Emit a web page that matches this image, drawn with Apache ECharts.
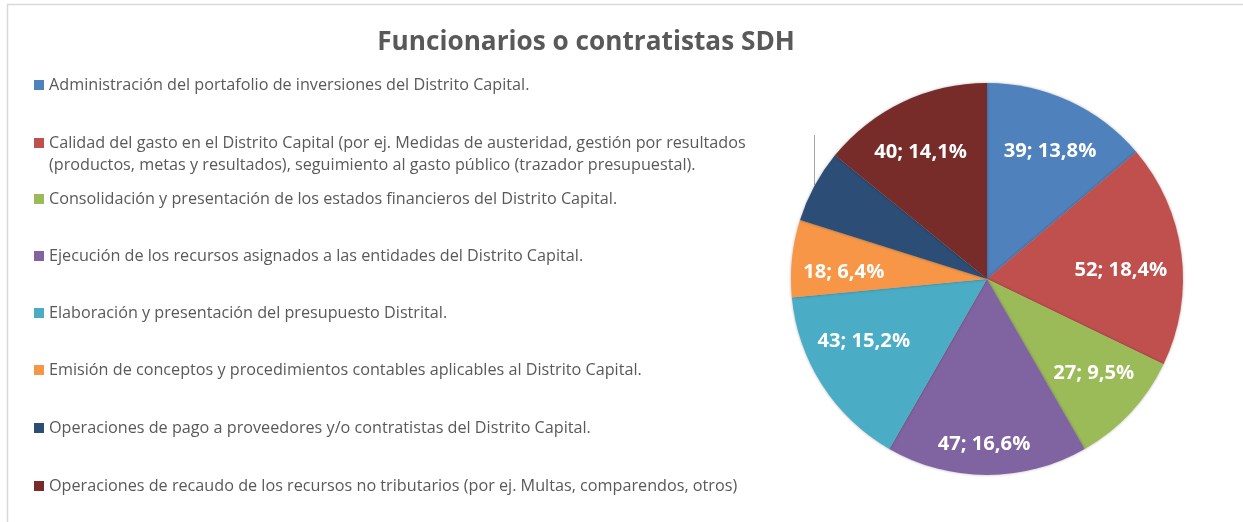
<!DOCTYPE html>
<html>
<head>
<meta charset="utf-8">
<script src="https://cdn.jsdelivr.net/npm/echarts@6/dist/echarts.min.js"></script>
<style>
    html, body { margin: 0; padding: 0; background: #fff; }
    #chart { width: 1243px; height: 522px; }
</style>
</head>
<body>
<div id="chart"></div>
<script>
// datos
var categories = [
    'Administración del portafolio de inversiones del Distrito Capital.',
    'Calidad del gasto en el Distrito Capital (por ej. Medidas de austeridad, gestión por resultados (productos, metas y resultados), seguimiento al gasto público (trazador presupuestal).',
    'Consolidación y presentación de los estados financieros del Distrito Capital.',
    'Ejecución de los recursos asignados a las entidades del Distrito Capital.',
    'Elaboración y presentación del presupuesto Distrital.',
    'Emisión de conceptos y procedimientos contables aplicables al Distrito Capital.',
    'Operaciones de pago a proveedores y/o contratistas del Distrito Capital.',
    'Operaciones de recaudo de los recursos no tributarios (por ej. Multas, comparendos, otros)'
];
var values = [39, 52, 27, 47, 43, 18, 17, 40];
var colors = ['#4F81BD', '#C0504D', '#9BBB59', '#8064A2', '#4BACC6', '#F79646', '#2C4D75', '#772C2A'];
// texto de leyenda con salto de línea (solo el segundo)
var legendText = {};
legendText[categories[1]] = 'Calidad del gasto en el Distrito Capital (por ej. Medidas de austeridad, gestión por resultados\n(productos, metas y resultados), seguimiento al gasto público (trazador presupuestal).';
var noLabel = [categories[6]];

// layout
var legendY = [85, 143, 199, 256, 313, 370, 428, 486];
var labelShift = [[3, 2], [-8, 9], [2, -3], [-3, 22], [-3, -15], [-1, 8], [0, 0], [-5, 2]];
var txtColor = '#595959';
var font = 'Open Sans';

var chart = echarts.init(document.getElementById('chart'));

var legends = categories.map(function (name, i) {
    var multi = !!legendText[name];
    return {
        data: [name],
        left: 34,
        top: multi ? legendY[i] - 33 : legendY[i] - 11,
        padding: 0,
        icon: 'rect',
        itemWidth: 10,
        itemHeight: 10,
        itemGap: 0,
        selectedMode: false,
        formatter: function (n) {
            return legendText[n] ? '\n' + legendText[n] : n;
        },
        textStyle: {
            color: txtColor,
            fontFamily: font,
            fontSize: 16.2,
            lineHeight: 22,
            padding: [0, 0, 0, 0]
        }
    };
});

var pieData = categories.map(function (name, i) {
    return { name: name, value: values[i], itemStyle: { color: colors[i] } };
});
var labelData = categories.map(function (name, i) {
    return {
        name: name,
        value: values[i],
        label: { show: noLabel.indexOf(name) < 0, offset: labelShift[i] }
    };
});

var option = {
    backgroundColor: '#fff',
    animation: false,
    title: {
        text: 'Funcionarios o contratistas SDH',
        left: 586,
        top: 30,
        padding: 0,
        textAlign: 'center',
        textStyle: {
            color: txtColor,
            fontFamily: font,
            fontSize: 26.2,
            fontWeight: 'bold'
        }
    },
    legend: legends,
    series: [
        {
            type: 'pie',
            center: [987, 279],
            radius: 196,
            startAngle: 90,
            clockwise: true,
            silent: true,
            label: { show: false },
            labelLine: { show: false },
            itemStyle: {
                borderWidth: 0,
                shadowBlur: 3,
                shadowColor: 'rgba(0,0,0,0.3)'
            },
            data: pieData
        },
        {
            // solo etiquetas
            type: 'pie',
            center: [987, 279],
            radius: [84, 196],
            startAngle: 90,
            clockwise: true,
            silent: true,
            legendHoverLink: false,
            itemStyle: { color: 'rgba(0,0,0,0)' },
            emphasis: { disabled: true },
            labelLine: { show: false },
            label: {
                position: 'inside',
                color: '#fff',
                fontFamily: font,
                fontSize: 20.2,
                fontWeight: 'bold',
                formatter: function (p) {
                    return p.value + '; ' + p.percent.toFixed(1).replace('.', ',') + '%';
                }
            },
            data: labelData
        }
    ],
    graphic: [
        {
            type: 'polyline',
            shape: { points: [[7.5, 522], [7.5, 4.5], [1243, 4.5]] },
            style: { stroke: '#d9d9d9', lineWidth: 1.5, fill: null }
        },
        {
            type: 'line',
            shape: { x1: 814.5, y1: 135, x2: 814.5, y2: 185 },
            style: { stroke: '#a6a6a6', lineWidth: 1 }
        }
    ]
};

chart.setOption(option);
</script>
</body>
</html>
